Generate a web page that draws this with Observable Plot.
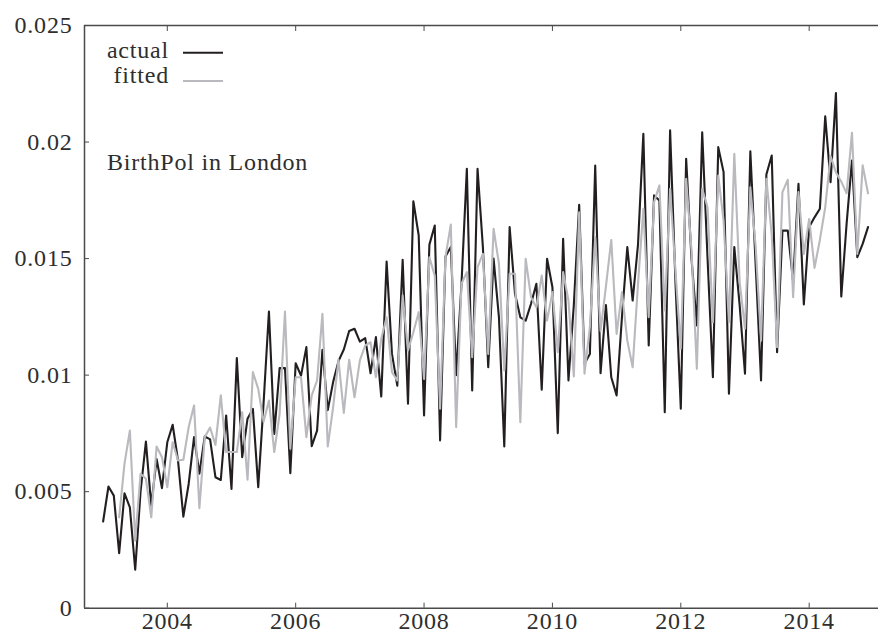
<!DOCTYPE html>
<html>
<head>
<meta charset="utf-8">
<script src="https://cdn.jsdelivr.net/npm/d3@7"></script>
<script src="https://cdn.jsdelivr.net/npm/@observablehq/plot@0.6"></script>
<style>
  html, body { margin: 0; padding: 0; background: #fff; }
  #chart svg { display: block; }
</style>
</head>
<body>
<div id="chart"></div>
<script>
// Monthly series, January 2003 to December 2014.
const firstYear = 2003;
const monthsPerYear = 12;

const actual = [
  0.00372, 0.00522, 0.00483, 0.00236, 0.00493, 0.00433, 0.00165, 0.0050, 0.00715, 0.0044, 0.0064, 0.00515,
  0.00712, 0.00787, 0.00634, 0.00393, 0.00534, 0.00734, 0.00577, 0.00737, 0.00724, 0.00562, 0.00550, 0.00827,
  0.00512, 0.01073, 0.00648, 0.00813, 0.00855, 0.00519, 0.0088, 0.01273, 0.00748, 0.0103, 0.0103, 0.00579,
  0.01051, 0.00998, 0.0112, 0.00695, 0.00762, 0.01109, 0.0085, 0.0097, 0.0106, 0.0111, 0.01189, 0.01199,
  0.01144, 0.01159, 0.01008, 0.01163, 0.00908, 0.01487, 0.01091, 0.00955, 0.01495, 0.00877, 0.01746, 0.01599,
  0.00827, 0.0156, 0.01642, 0.0072, 0.01509, 0.0155, 0.0100, 0.01392, 0.01885, 0.00934, 0.01885, 0.01549,
  0.01034, 0.0150, 0.01248, 0.00694, 0.01635, 0.01349, 0.01248, 0.01234, 0.01306, 0.01392, 0.00937, 0.01499,
  0.01377, 0.00751, 0.01585, 0.00977, 0.0130, 0.01731, 0.01049, 0.01091, 0.01899, 0.01008, 0.01301, 0.00991,
  0.00913, 0.0125, 0.01549, 0.0132, 0.0156, 0.02035, 0.01127, 0.01771, 0.01749, 0.00841, 0.0205, 0.0140,
  0.00856, 0.01928, 0.0150, 0.01213, 0.02042, 0.0150, 0.00991, 0.01978, 0.01871, 0.0092, 0.0155, 0.0130,
  0.01006, 0.0196, 0.0147, 0.00977, 0.01861, 0.01942, 0.01098, 0.0162, 0.0162, 0.0140, 0.01821, 0.01303,
  0.01635, 0.01677, 0.01714, 0.0211, 0.01828, 0.0221, 0.01337, 0.0165, 0.01921, 0.01506, 0.01563, 0.01635
];

// The fitted series begins in April 2003.
const fitted = [
  null, null, null, 0.0039, 0.0062, 0.00762, 0.0029, 0.00577, 0.00555, 0.0039, 0.00694, 0.00648,
  0.00519, 0.00712, 0.00634, 0.00637, 0.00777, 0.0087, 0.00429, 0.00734, 0.00775, 0.0070, 0.00913, 0.0067,
  0.0067, 0.0067, 0.00841, 0.00551, 0.01013, 0.00941, 0.0080, 0.00891, 0.0067, 0.00834, 0.01273, 0.00684,
  0.00991, 0.00991, 0.00734, 0.00913, 0.00977, 0.01263, 0.00694, 0.00862, 0.01066, 0.00838, 0.01066, 0.00905,
  0.01063, 0.01127, 0.01141, 0.00991, 0.01156, 0.01248, 0.01013, 0.00977, 0.01342, 0.01106, 0.01184, 0.0127,
  0.00984, 0.01506, 0.01427, 0.00856, 0.01506, 0.01646, 0.00777, 0.01392, 0.01442, 0.01077, 0.01463, 0.0152,
  0.01091, 0.01628, 0.01478, 0.0102, 0.01435, 0.01435, 0.00798, 0.01499, 0.01334, 0.01291, 0.01427, 0.01234,
  0.01356, 0.01098, 0.01442, 0.0132, 0.00994, 0.01699, 0.01006, 0.01206, 0.01592, 0.0119, 0.0138, 0.0158,
  0.01177, 0.01356, 0.01148, 0.01034, 0.01392, 0.01714, 0.01248, 0.01742, 0.01814, 0.01277, 0.01799, 0.01449,
  0.01113, 0.01842, 0.01535, 0.01027, 0.01799, 0.0172, 0.01227, 0.01856, 0.01663, 0.01227, 0.0195, 0.0140,
  0.01199, 0.01806, 0.0155, 0.01148, 0.01842, 0.0160, 0.0112, 0.01785, 0.01838, 0.01334, 0.01785, 0.0152,
  0.0167, 0.0146, 0.0158, 0.0172, 0.0194, 0.0187, 0.0183, 0.0178, 0.0204, 0.0152, 0.0190, 0.0178
];

const xTicks = [2004, 2006, 2008, 2010, 2012, 2014];
const yTicks = [0, 0.005, 0.01, 0.015, 0.02, 0.025];
const seriesNames = ["actual", "fitted"];
const panelTitle = "BirthPol in London";

// Long table for the line marks.
const rows = actual.map((v, i) => ({
  t: firstYear + i / monthsPerYear,
  actual: v,
  fitted: fitted[i]
}));

const xDomain = [2002.71, 2015.08];
const yDomain = [0, 0.025];

const font = "'Liberation Serif', 'Times New Roman', serif";
const ink = "#4a4a4a";
const textInk = "#2e2e2e";
const actualColor = "#231f20";
const fittedColor = "#b9b9be";
const seriesColors = [actualColor, fittedColor];

const chart = Plot.plot({
  width: 878,
  height: 634,
  marginLeft: 84,
  marginRight: 0,
  marginTop: 25,
  marginBottom: 26.3,
  style: {
    fontFamily: font,
    fontSize: "24px",
    color: textInk,
    background: "#fff",
    letterSpacing: "0.8px"
  },
  x: { domain: xDomain },
  y: { domain: yDomain },
  marks: [
    // frame: left, bottom and top edges
    Plot.ruleX([xDomain[0]], { stroke: ink, strokeWidth: 1.5 }),
    Plot.ruleY(yDomain, { stroke: ink, strokeWidth: 1.5 }),
    // axes with inward ticks
    Plot.axisX(xTicks, {
      anchor: "bottom", tickSize: -5, tickPadding: 8.5,
      tickFormat: d => String(d), label: null, stroke: ink, fill: textInk
    }),
    Plot.axisX(xTicks, {
      anchor: "top", tickSize: -5, tickFormat: () => "", label: null, stroke: ink
    }),
    Plot.axisY(yTicks, {
      anchor: "left", tickSize: -5, tickPadding: 17,
      tickFormat: d => String(d), label: null, stroke: ink, fill: textInk
    }),
    // series
    Plot.lineY(rows, { x: "t", y: "actual", stroke: actualColor, strokeWidth: 2.1 }),
    Plot.lineY(rows, { x: "t", y: "fitted", stroke: fittedColor, strokeWidth: 2.1 })
  ]
});

document.getElementById("chart").appendChild(chart);

// Legend and panel title, drawn inside the plot area.
const svg = d3.select(chart);
const overlay = svg.append("g")
  .attr("font-family", font)
  .attr("font-size", 24)
  .attr("letter-spacing", "0.8px")
  .attr("text-anchor", "start")
  .attr("fill", textInk);

seriesNames.forEach((name, i) => {
  overlay.append("text")
    .attr("x", 169)
    .attr("y", 57.5 + i * 25.5)
    .attr("text-anchor", "end")
    .text(name);
  overlay.append("line")
    .attr("x1", 183).attr("x2", 223)
    .attr("y1", 52.7 + i * 28.3).attr("y2", 52.7 + i * 28.3)
    .attr("stroke", seriesColors[i])
    .attr("stroke-width", 2);
});

overlay.append("text")
  .attr("x", 107)
  .attr("y", 170)
  .attr("text-anchor", "start")
  .text(panelTitle);
</script>
</body>
</html>
